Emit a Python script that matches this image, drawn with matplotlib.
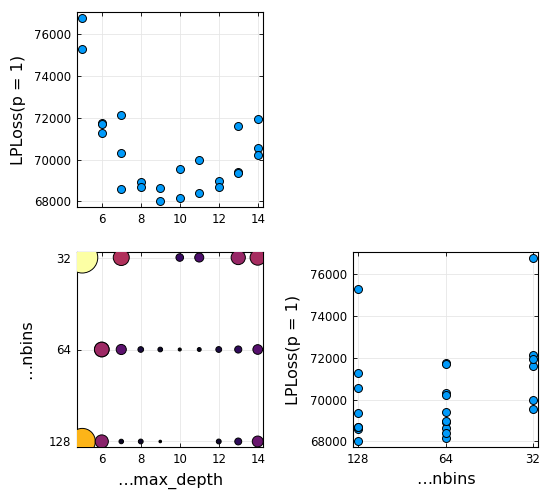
import numpy as np
import matplotlib
matplotlib.use("Agg")
import matplotlib.pyplot as plt

# data: (max_depth, nbins, loss)
max_depth = [5, 5, 6, 6, 6, 7, 7, 7, 8, 8, 9, 9, 10, 10, 11, 11, 12, 12, 13, 13, 13, 14, 14, 14]
nbins = [32, 128, 64, 64, 128, 32, 64, 128, 64, 128, 64, 128, 32, 64, 32, 64, 64, 128, 32, 64, 128, 32, 128, 64]
loss = [76800, 75300, 71750, 71720, 71280, 72150, 70330, 68600, 68950, 68680, 68650, 68000,
        69550, 68150, 70000, 68400, 69000, 68700, 71600, 69400, 69350, 71950, 70580, 70200]

depth_ticks = [6, 8, 10, 12, 14]
loss_ticks = [68000, 70000, 72000, 74000, 76000]
nbins_ticks = [32, 64, 128]
ylabel_loss = "LPLoss(p = 1)"
label_depth = "…max_depth"
label_nbins = "…nbins"

W, H = 550, 500
fig = plt.figure(figsize=(W / 100, H / 100), dpi=100)

def ax_px(l, t, r, b):
    return fig.add_axes([l / W, (H - b) / H, (r - l) / W, (b - t) / H])

BLUE = "#009AFA"
GRID = "#e6e6e6"
LFS = 11.5

def style(ax):
    ax.grid(True, color=GRID, linewidth=0.6)
    ax.set_axisbelow(True)
    ax.tick_params(direction="in", length=3, width=0.6, top=True, right=True, labelsize=8.5,
                   pad=4)
    for s in ax.spines.values():
        s.set_linewidth(0.8)

md = np.array(max_depth, float)
nb = np.array(nbins, float)
ls = np.array(loss, float)
lmin, lmax = ls.min(), ls.max()
lr = lmax - lmin
ylim = (lmin - 0.03 * lr, lmax + 0.03 * lr)
dr = md.max() - md.min()
xlim = (md.min() - 0.03 * dr, md.max() + 0.03 * dr)
lb = np.log2(nb)
br = lb.max() - lb.min()
blim = (lb.min() - 0.03 * br, lb.max() + 0.03 * br)

# top-left
ax1 = ax_px(77, 12, 263, 207)
style(ax1)
ax1.scatter(md, ls, s=33, c=BLUE, edgecolors="black", linewidths=0.7, zorder=3)
ax1.set_xlim(xlim)
ax1.set_ylim(ylim)
ax1.set_xticks(depth_ticks)
ax1.set_yticks(loss_ticks)
ax1.set_ylabel(ylabel_loss, fontsize=LFS, labelpad=6)

# bottom-left
ax2 = ax_px(77, 252, 263, 447)
style(ax2)
r_px = 1.3 + (ls - lmin) * (14.2 / lr)
s_pt = (2 * r_px * 72 / 100) ** 2
ax2.scatter(md, lb, s=s_pt, c=ls, cmap="inferno", vmin=lmin, vmax=lmax,
            edgecolors="black", linewidths=0.7, zorder=3)
ax2.set_xlim(xlim)
ax2.set_ylim(blim[1], blim[0])
ax2.set_xticks(depth_ticks)
ax2.set_yticks(np.log2(nbins_ticks))
ax2.set_yticklabels([str(v) for v in nbins_ticks])
ax2.set_xlabel(label_depth, fontsize=LFS, labelpad=5)
ax2.set_ylabel(label_nbins, fontsize=LFS, labelpad=11)

# bottom-right
ax3 = ax_px(353, 252, 538, 447)
style(ax3)
ax3.scatter(lb, ls, s=33, c=BLUE, edgecolors="black", linewidths=0.7, zorder=3)
ax3.set_xlim(blim[1], blim[0])
ax3.set_ylim(ylim)
ax3.set_xticks(np.log2(nbins_ticks))
ax3.set_xticklabels([str(v) for v in nbins_ticks])
ax3.set_yticks(loss_ticks)
ax3.set_xlabel(label_nbins, fontsize=LFS, labelpad=5)
ax3.set_ylabel(ylabel_loss, fontsize=LFS, labelpad=7)

fig.savefig("out.png", dpi=100)
